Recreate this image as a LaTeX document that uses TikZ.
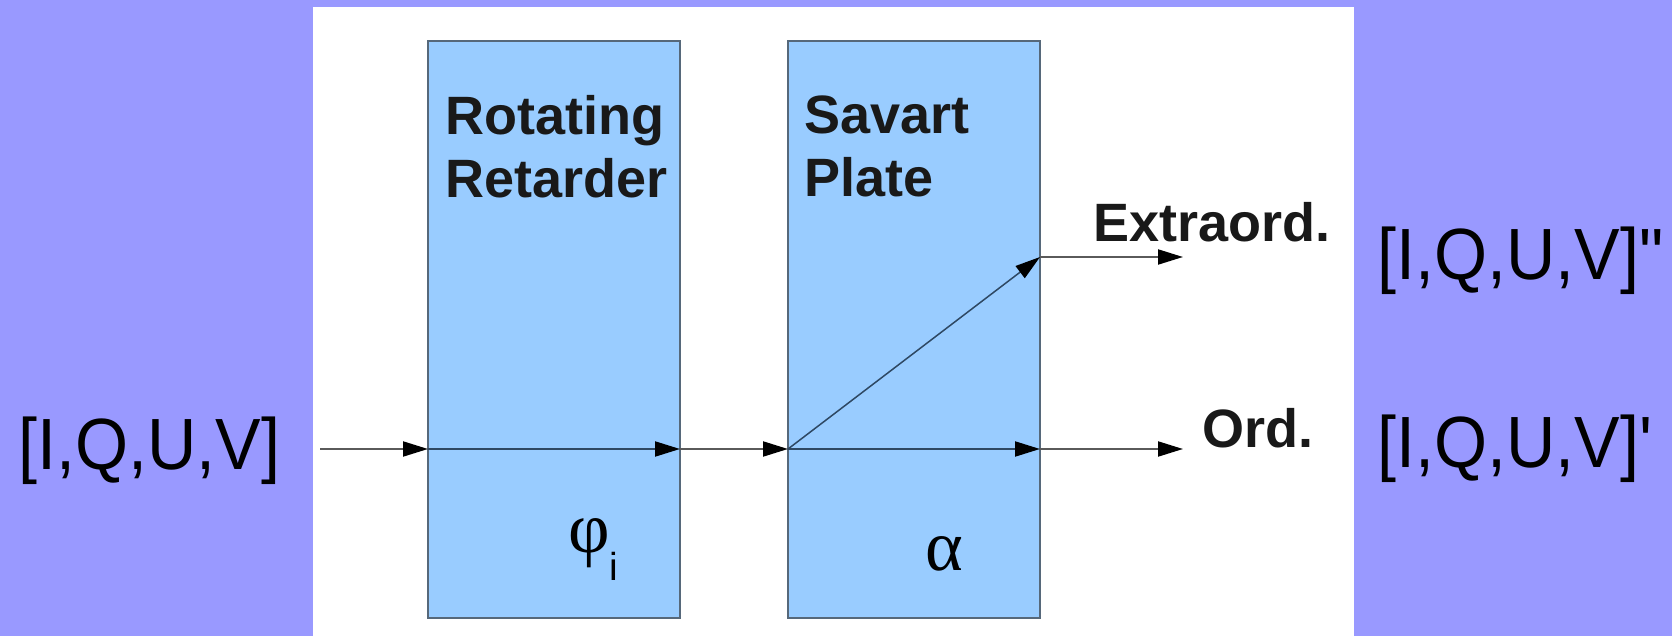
\documentclass[tikz,border=0pt]{standalone}
\usepackage{fontspec}
\setmainfont{Liberation Sans}
\newfontfamily\grkfont{Liberation Serif}
\newfontfamily\stokesfont{Liberation Sans}[Ligatures=TeXOff]
\usepackage{graphicx}
\usetikzlibrary{arrows.meta}

\definecolor{bgpurple}{HTML}{9999FF}
\definecolor{boxfill}{HTML}{99CCFF}
\definecolor{boxline}{HTML}{56687A}
\definecolor{rayout}{HTML}{5A5A5A}
\definecolor{rayinner}{HTML}{2E4863}

\begin{document}
\begin{tikzpicture}[x=0.5pt,y=-0.5pt,
  plate/.style={draw=boxline, line width=1pt, fill=boxfill, minimum width=126pt, minimum height=288.5pt, inner sep=0pt, outer sep=0pt},
  ray/.style={draw=rayout, line width=1pt, -{Triangle[length=12.5pt,width=7.5pt,color=black]}},
  rayin/.style={ray, draw=rayinner},
  title/.style={font=\fontsize{27}{31.5}\selectfont\bfseries, inner sep=0pt, anchor=base west, align=left, text=black!90},
  stokes/.style={font=\stokesfont\fontsize{36.3}{40}\selectfont, inner sep=0pt, anchor=base west},
  greek/.style={font=\grkfont\fontsize{36}{40}\selectfont, inner sep=0pt, anchor=base west}]

\useasboundingbox (0,0) rectangle (1672,636);
\fill[bgpurple] (0,0) rectangle (1672,636);
\fill[white] (313,7) rectangle (1354,636);

\node[plate] (ret) at (554,329.5) {};
\node[plate] (sav) at (914,329.5) {};

\node[title] (rettxt) at (445,198) {Rotating\\Retarder};
\node[title] (savtxt) at (804,197) {Savart\\Plate};

\coordinate (src) at (320,449);
\coordinate (elevel) at (0,257);
\coordinate (retin) at (ret.west |- src);
\coordinate (retout) at (ret.east |- src);
\coordinate (savin) at (sav.west |- src);
\coordinate (savout) at (sav.east |- src);
\coordinate (exo) at (sav.east |- elevel);
\coordinate (ordend) at (1183,449);
\coordinate (extend) at (1183,257);

\draw[ray] (src) -- (retin);
\draw[rayin] (retin) -- (retout);
\draw[ray] (retout) -- (savin);
\draw[rayin] (savin) -- (savout);
\draw[rayin, line width=0.75pt] (savin) -- (exo);
\draw[ray] (savout) -- (ordend);
\draw[ray] (exo) -- (extend);

\node[title] (ext) at (1093,242) {Extraord.};
\node[title] (ord) at (1202,447) {Ord.};

\node[stokes] (sin) at (18,469) {\scalebox{0.94}[1]{[I,Q,U,V]}};
\node[stokes] (sext) at (1377,280) {\scalebox{0.94}[1]{[I,Q,U,V]"}};
\node[stokes] (sord) at (1377,467) {\scalebox{0.94}[1]{[I,Q,U,V]'}};

\node[greek] (phi) at (568,552) {φ\raisebox{-14pt}{\normalfont\fontsize{19.5}{22}\selectfont i}};
\node[greek] (alpha) at (925,570) {α};
\end{tikzpicture}
\end{document}
